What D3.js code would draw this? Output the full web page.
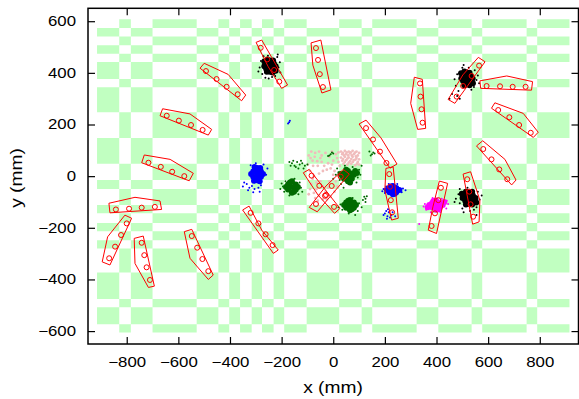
<!DOCTYPE html>
<html>
<head>
<meta charset="utf-8">
<script src="https://cdn.jsdelivr.net/npm/d3@7"></script>
<style>
	body { margin: 0; background: #fff; }
	svg text { font-family: "Liberation Sans", Arial, sans-serif; fill: #000; }
</style>
</head>
<body>
<svg id="chart" width="579" height="399"></svg>
<script>
	'use strict';

	// tick labels (mm)
	var xTicks = [-800, -600, -400, -200, 0, 200, 400, 600, 800];
	var yTicks = [-600, -400, -200, 0, 200, 400, 600];

	// floor pattern: vertical and horizontal stripes, XOR-ed (mm)
	var colBands = [[-829, -784], [-700, -529], [-445, -403], [-361, -316], [-276, -231],
		[-190, -103], [23, 110], [151, 323], [407, 536], [577, 749], [790, 915]];
	var rowBands = [[541, 574], [474, 507], [376, 442], [247, 344], [48, 148],
		[-50, -15], [-144, -112], [-213, -181], [-280, -248], [-476, -373], [-574, -508]];
	var floorX = [-915, 915],
		floorY = [-605, 608];

	// sensor outlines (mm)
	var outlines = [
		[[-299, 518], [-277, 527], [-177, 353], [-200, 340], [-252, 424]],
		[[-86, 516], [-48, 527], [-9, 334], [-44, 322], [-79, 430]],
		[[-516, 418], [-500, 437], [-407, 394], [-339, 314], [-355, 292]],
		[[-661, 261], [-555, 241], [-471, 181], [-484, 159], [-671, 234]],
		[[-732, 82], [-632, 65], [-542, 11], [-558, -18], [-742, 52]],
		[[-869, -105], [-768, -82], [-671, -96], [-665, -129], [-865, -142]],
		[[-807, -151], [-781, -163], [-865, -344], [-895, -332], [-874, -235]],
		[[-771, -241], [-736, -232], [-693, -426], [-716, -431], [-768, -338]],
		[[-577, -215], [-548, -206], [-465, -383], [-484, -400], [-555, -318]],
		[[-351, -131], [-326, -116], [-277, -209], [-213, -286], [-232, -299]],
		[[-116, 13], [-93, 26], [26, -125], [5, -144], [-59, -73]],
		[[39, 26], [62, 8], [-62, -138], [-93, -121], [-28, -38]],
		[[100, 202], [127, 217], [185, 148], [247, 47], [220, 31]],
		[[204, 30], [232, 36], [252, -163], [226, -170], [200, -54]],
		[[314, 383], [345, 375], [358, 185], [327, 181], [300, 282]],
		[[445, 297], [502, 392], [562, 460], [588, 443], [471, 282]],
		[[568, 369], [672, 388], [772, 366], [768, 333], [571, 340]],
		[[626, 284], [613, 263], [775, 150], [794, 170], [736, 243]],
		[[555, 117], [579, 137], [665, 65], [708, -15], [691, -34]],
		[[411, -19], [443, -28], [400, -222], [368, -209], [386, -119]],
		[[503, 8], [532, 17], [568, -93], [565, -177], [540, -186]]
	];

	// sensor positions (mm), four per outline
	var sensors = [
		[-281, 497], [-256, 452], [-229, 411], [-209, 366],
		[-67, 496], [-59, 450], [-52, 395], [-40, 345],
		[-493, 407], [-452, 376], [-413, 346], [-370, 317],
		[-645, 234], [-598, 215], [-551, 198], [-506, 179],
		[-716, 52], [-668, 36], [-624, 17], [-577, 0],
		[-842, -129], [-791, -126], [-742, -122], [-691, -119],
		[-800, -183], [-822, -228], [-845, -273], [-868, -318],
		[-742, -258], [-732, -306], [-723, -353], [-710, -402],
		[-548, -232], [-527, -277], [-507, -321], [-484, -368],
		[-320, -142], [-290, -183], [-262, -225], [-235, -267],
		[-84, 2], [-54, -37], [-28, -73], [3, -119],
		[29, -2], [-6, -38], [-32, -76], [-67, -108],
		[127, 186], [154, 142], [181, 95], [206, 51],
		[217, 8], [220, -41], [223, -93], [228, -140],
		[336, 359], [338, 308], [342, 259], [346, 207],
		[478, 308], [503, 349], [536, 388], [565, 428],
		[594, 349], [646, 348], [695, 346], [745, 346],
		[639, 256], [682, 228], [720, 198], [765, 168],
		[581, 105], [613, 65], [643, 26], [674, -12],
		[417, -45], [407, -93], [394, -144], [381, -193],
		[519, -12], [527, -60], [532, -109], [542, -157]
	];

	// tracked points (mm)
	var pinkDots = [[30, 95], [45, 98], [60, 95], [75, 98], [90, 95], [100, 90], [35, 85], [50, 85],
		[65, 88], [80, 85], [95, 80], [30, 72], [45, 75], [60, 72], [75, 75], [90, 70], [100, 65],
		[35, 60], [50, 62], [65, 58], [80, 62], [95, 55], [40, 48], [55, 45], [70, 48], [85, 42],
		[100, 45], [-95, 80], [-80, 60], [-70, 90], [-60, 40], [-90, 20], [-75, 0], [-50, 70],
		[-40, 20], [-20, 50], [-30, 90], [0, 60], [10, 85], [-10, 30], [-85, -30], [-65, -50],
		[-95, -70], [-50, -20], [-30, -60], [-15, -20], [5, 20], [15, -40], [-70, -85], [-40, -90],
		[-10, -80], [20, 0], [-55, 95], [-5, 95], [15, 70], [-85, 95], [20, 92], [-45, 55],
		[38, 90], [52, 92], [68, 92], [84, 91], [42, 80], [58, 80], [72, 80], [88, 76], [38, 66],
		[55, 68], [70, 66], [86, 64], [45, 55], [60, 52], [76, 55], [92, 48], [-88, 70], [-72, 75],
		[-62, 58], [-78, 40], [-45, 80], [-35, 40], [-15, 75], [-5, 45], [-25, 25], [-55, 10],
		[-80, -10], [-65, -25], [-40, -40], [-20, -45], [-90, -50], [-75, -65], [-55, -75],
		[-25, -90], [5, -60], [10, -20], [0, 5], [25, 40], [20, 55], [-98, 45], [-60, -95]];

	var greenDense = [[-160, -42], [-175, -32], [-145, -32], [-175, -52], [-145, -52], [-160, -20],
		[-160, -64], [-183, -42], [-137, -42], [-168, -25], [-152, -60],
		[65, -112], [50, -102], [80, -102], [50, -122], [80, -122], [65, -92], [65, -132],
		[42, -112], [88, -112], [58, -95], [72, -128],
		[57, 0], [42, 10], [72, 10], [42, -10], [72, -10], [57, 20], [57, -20], [35, 0],
		[80, 5], [50, 25], [65, -25], [85, 20], [28, 8], [92, 12]];
	var greenSparse = [[-195, -40], [-125, -45], [-190, -60], [-130, -25], [-170, -75], [-150, -10],
		[-200, -28], [-120, -60], [28, -110], [100, -105], [35, -130], [95, -135], [60, -145],
		[75, -85], [110, -120], [20, -120], [125, -100], [20, 15], [95, -5], [25, -15], [100, 25],
		[45, 40], [75, 35], [10, 5], [90, -25], [110, 40], [0, -10], [30, -30],
		[-160, 50], [-150, 40], [-140, 55], [-130, 45], [-145, 35], [-120, 50], [-165, 40],
		[-135, 30], [-110, 40], [-155, 60], [-125, 60], [-170, 55], [-115, 30], [-100, 45],
		[-10, 85], [-5, 92], [-15, 80], [0, 88], [-20, 78], [150, 85], [155, 92], [145, 80],
		[160, 88], [140, 95], [120, -80], [125, -88], [115, -92], [130, -78],
		[-185, -20], [-135, -70], [-205, -50], [15, 30], [105, 5], [40, -45], [85, -150]];

	var blueDense = [[-295, 8], [-310, 18], [-280, 18], [-310, -2], [-280, -2], [-295, 32], [-295, -16],
		[-318, 8], [-272, 8], [-305, 35], [-285, -20], [-283, 32], [-307, -18], [-300, 20], [-290, -5],
		[231, -54], [218, -46], [244, -46], [218, -62], [244, -62], [231, -38], [231, -70],
		[208, -54], [256, -54], [224, -40], [238, -68]];
	var blueSparse = [[-335, -30], [-345, -25], [-325, -45], [-315, -38], [-330, -55], [-305, -50],
		[-290, -45], [-280, -35], [-350, -40], [-260, 5], [-255, 30], [-300, 50], [-270, 45],
		[-320, 42], [-310, -62], [-285, -60], [195, -50], [270, -48], [200, -65], [265, -62],
		[215, -30], [248, -30], [280, -55], [205, -40], [190, -58], [205, -135], [215, -140],
		[225, -150], [210, -155], [200, -145], [220, -160], [195, -150], [230, -140], [212, -128],
		[240, -155], [208, -165], [-171, 209], [-168, 215], [-175, 204]];

	var magentaDense = [[398, -112], [383, -104], [413, -104], [383, -120], [413, -120], [398, -94],
		[398, -130], [372, -112], [424, -112], [388, -96], [408, -128], [430, -100], [366, -120],
		[392, -115], [404, -108]];
	var magentaSparse = [[355, -108], [440, -95], [360, -130], [438, -125], [378, -140], [420, -88],
		[445, -108], [350, -118], [415, -140], [385, -85], [333, -185]];

	var blackDense = [[-245, 426], [-260, 436], [-230, 436], [-260, 416], [-230, 416], [-245, 448],
		[-245, 404], [-267, 426], [-223, 426], [-255, 451], [-235, 401], [-233, 448], [-257, 404],
		[-267, 444], [-223, 408], [-240, 436], [-250, 416],
		[518, 378], [503, 388], [533, 388], [503, 368], [533, 368], [518, 400], [518, 356],
		[496, 378], [540, 378], [508, 405], [528, 352], [528, 400], [508, 352], [495, 398],
		[541, 360], [512, 390], [524, 366],
		[526, -85], [511, -75], [541, -75], [511, -95], [541, -95], [526, -63], [526, -107],
		[501, -85], [551, -85], [514, -60], [538, -110], [538, -60], [514, -110], [498, -68],
		[554, -102], [520, -80], [532, -92]];
	var blackSparse = [[-280, 446], [-212, 421], [-275, 396], [-217, 461], [-253, 466], [-237, 384],
		[-207, 441], [-285, 421], [-225, 388], [-270, 464], [-205, 401], [-263, 381], [-215, 471],
		[-290, 405], [-250, 378],
		[480, 395], [555, 372], [475, 350], [548, 410], [500, 420], [535, 335], [560, 390],
		[485, 330], [470, 375], [545, 345], [490, 300], [505, 430], [565, 360], [525, 420],
		[480, 310], [450, 300], [460, 318],
		[485, -70], [567, -90], [490, -105], [560, -60], [500, -125], [545, -130], [475, -88],
		[575, -75], [520, -45], [530, -135], [555, -120], [490, -50], [555, -150], [470, -100],
		[505, -140]];

	var width = 579,
		height = 399,
		plot = {left: 88, right: 578.5, top: 8.3, bottom: 344};

	var svg = d3.select('#chart');

	var x = d3.scaleLinear().domain([-950, 950]).range([plot.left, plot.right]);
	var y = d3.scaleLinear().domain([-650, 650]).range([plot.bottom, plot.top]);

	svg.append('rect')
		.attr('width', width)
		.attr('height', height)
		.attr('fill', '#fff');

	svg.append('clipPath')
		.attr('id', 'plot-clip')
		.append('rect')
		.attr('x', plot.left)
		.attr('y', plot.top)
		.attr('width', plot.right - plot.left)
		.attr('height', plot.bottom - plot.top);

	var g = svg.append('g').attr('clip-path', 'url(#plot-clip)');

	drawFloor();

	drawDots(pinkDots, '#f0bcbc', 1.4);
	drawDots(greenSparse, '#006a00', 1);
	drawDots(greenDense, '#006a00', 3);
	drawDots(blueSparse, '#0000ff', 1);
	drawDots(blueDense, '#0000ff', 3);
	drawDots(magentaSparse, '#ff00ff', 1);
	drawDots(magentaDense, '#ff00ff', 3);
	drawDots(blackSparse, '#000', 1);
	drawDots(blackDense, '#000', 3);

	drawSensors();
	drawAxes();

	function drawFloor() {
		// every stripe goes in one path; evenodd leaves the crossings empty
		var p = d3.path();
		colBands.forEach(function (b) {
			p.rect(x(b[0]), y(floorY[1]), x(b[1]) - x(b[0]), y(floorY[0]) - y(floorY[1]));
		});
		rowBands.forEach(function (b) {
			p.rect(x(floorX[0]), y(b[1]), x(floorX[1]) - x(floorX[0]), y(b[0]) - y(b[1]));
		});
		g.append('path')
			.attr('d', p.toString())
			.attr('fill', '#c1ffc1')
			.attr('fill-rule', 'evenodd');
	}

	function drawDots(data, color, r) {
		g.append('g')
			.selectAll('circle')
			.data(data)
			.enter().append('circle')
			.attr('cx', function (d) { return x(d[0]); })
			.attr('cy', function (d) { return y(d[1]); })
			.attr('r', r)
			.attr('fill', color);
	}

	function drawSensors() {
		var line = d3.line()
			.x(function (d) { return x(d[0]); })
			.y(function (d) { return y(d[1]); })
			.curve(d3.curveLinearClosed);

		g.append('g')
			.selectAll('path')
			.data(outlines)
			.enter().append('path')
			.attr('d', line)
			.attr('fill', 'none')
			.attr('stroke', '#ff0000')
			.attr('stroke-width', 1);

		g.append('g')
			.selectAll('circle')
			.data(sensors)
			.enter().append('circle')
			.attr('cx', function (d) { return x(d[0]); })
			.attr('cy', function (d) { return y(d[1]); })
			.attr('r', 2.5)
			.attr('fill', 'none')
			.attr('stroke', '#ff0000')
			.attr('stroke-width', 1);
	}

	function drawAxes() {
		svg.append('g')
			.attr('transform', 'translate(0,' + plot.bottom + ')')
			.call(d3.axisBottom(x).tickValues(xTicks).tickSizeInner(-7).tickSizeOuter(0).tickPadding(13));
		svg.append('g')
			.attr('transform', 'translate(' + plot.left + ',0)')
			.call(d3.axisLeft(y).tickValues(yTicks).tickSizeInner(-7).tickSizeOuter(0).tickPadding(10));
		svg.append('g')
			.attr('transform', 'translate(0,' + plot.top + ')')
			.call(d3.axisTop(x).tickValues(xTicks).tickSizeInner(-7).tickSizeOuter(0).tickFormat(''));
		svg.append('g')
			.attr('transform', 'translate(' + plot.right + ',0)')
			.call(d3.axisRight(y).tickValues(yTicks).tickSizeInner(-7).tickSizeOuter(0).tickFormat(''));

		svg.selectAll('.domain').remove();
		svg.selectAll('.tick line').attr('stroke', '#000').attr('stroke-width', 1.2);
		svg.selectAll('.tick text')
			.attr('font-size', 14)
			.attr('font-family', '"Liberation Sans", Arial, sans-serif')
			.attr('transform', 'scale(1.2,1)');

		svg.append('rect')
			.attr('x', plot.left)
			.attr('y', plot.top)
			.attr('width', plot.right - plot.left)
			.attr('height', plot.bottom - plot.top)
			.attr('fill', 'none')
			.attr('stroke', '#000')
			.attr('stroke-width', 1.5);

		svg.append('text')
			.attr('transform', 'translate(333,393) scale(1.2,1)')
			.attr('text-anchor', 'middle')
			.attr('font-size', 16)
			.text('x (mm)');

		svg.append('text')
			.attr('transform', 'translate(22,178) rotate(-90) scale(1.2,1)')
			.attr('text-anchor', 'middle')
			.attr('font-size', 16)
			.text('y (mm)');
	}
</script>
</body>
</html>
